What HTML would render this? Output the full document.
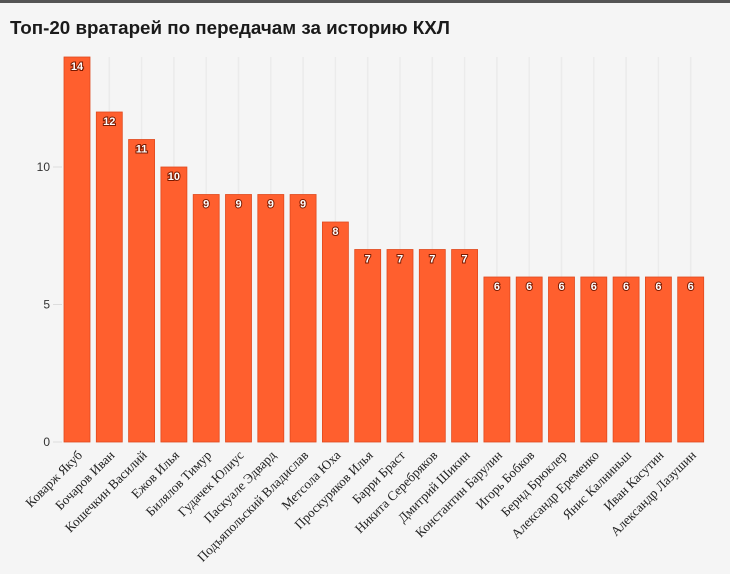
<!DOCTYPE html>
<html><head><meta charset="utf-8"><style>
html,body{margin:0;padding:0;background:#f5f5f5;}
svg{display:block;}
</style></head><body>
<svg width="730" height="574" viewBox="0 0 730 574" xmlns="http://www.w3.org/2000/svg">
<rect x="0" y="0" width="730" height="574" fill="#f5f5f5"/>
<rect x="0" y="0" width="730" height="3" fill="#555"/>
<text x="10" y="34" font-family="Liberation Sans, sans-serif" font-weight="bold" font-size="18.8" fill="#1a1a1a">Топ-20 вратарей по передачам за историю КХЛ</text>
<g id="c"></g>
</svg>
<script>
var names=["Коварж Якуб","Бочаров Иван","Кошечкин Василий","Ежов Илья","Билялов Тимур","Гудачек Юлиус","Паскуале Эдвард","Подъяпольский Владислав","Метсола Юха","Проскуряков Илья","Барри Браст","Никита Серебряков","Дмитрий Шикин","Константин Барулин","Игорь Бобков","Бернд Брюклер","Александр Еременко","Янис Калниньш","Иван Касутин","Александр Лазушин"];
var vals=[14,12,11,10,9,9,9,9,8,7,7,7,7,6,6,6,6,6,6,6];
var s="";
var base=442,u=27.5;
[0,5,10].forEach(function(t){var y=base-t*u;s+='<line x1="53" x2="62" y1="'+y+'" y2="'+y+'" stroke="#ddd"/><text x="50" y="'+(y+4)+'" text-anchor="end" font-family="Liberation Sans, sans-serif" font-size="12" fill="#333">'+t+'</text>';});
for(var i=0;i<20;i++){var x=64+i*32.3,cx=x+13,h=vals[i]*u,y=base-h;
s+='<line x1="'+cx+'" x2="'+cx+'" y1="57" y2="'+base+'" stroke="#ebebeb" stroke-width="1.5"/>';
s+='<rect x="'+x+'" y="'+y+'" width="26" height="'+h+'" fill="#ff5f2e" stroke="#e04a1e" stroke-width="0.8"/>';
s+='<text x="'+cx+'" y="'+(y+13)+'" text-anchor="middle" font-family="Liberation Sans, sans-serif" font-weight="bold" font-size="11" fill="#fff" stroke="#7a1a00" stroke-width="2" paint-order="stroke">'+vals[i]+'</text>';
s+='<text transform="translate('+(cx+6)+',456) rotate(-45)" text-anchor="end" font-family="Liberation Serif, serif" font-size="13.2" fill="#222">'+names[i]+'</text>';}
document.getElementById("c").innerHTML=s;
</script>
</body></html>
